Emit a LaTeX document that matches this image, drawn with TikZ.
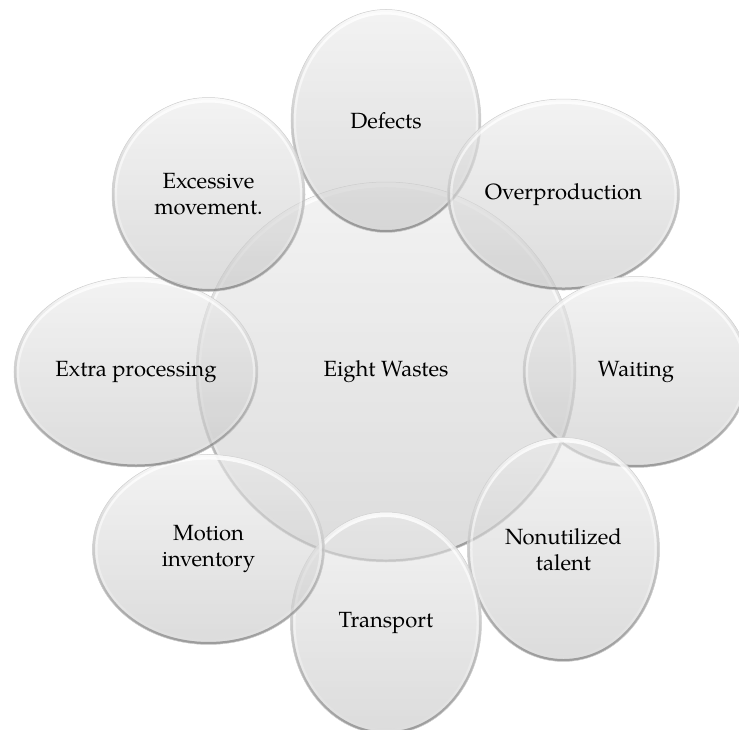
\documentclass[tikz,border=0pt]{standalone}
\usepackage{fontspec}
\setmainfont{TeX Gyre Pagella}
\usetikzlibrary{shapes.geometric,calc,fadings}

\tikzfading[name=rim top,top color=transparent!0,middle color=transparent!90,bottom color=transparent!100]
\tikzfading[name=rim bottom,top color=transparent!100,middle color=transparent!90,bottom color=transparent!0]

\begin{document}
\begin{tikzpicture}[x=1pt,y=1pt,
  waste/.style={ellipse,inner sep=0pt,align=center,font=\fontsize{22}{26}\selectfont,
    top color=gray!16,bottom color=gray!46,fill opacity=.6,text opacity=1,
    draw=gray!38,line width=.5pt,
    path picture={
      \draw[white,line width=10pt,opacity=.85,path fading=rim top,fit fading=true]
        let \p1=(path picture bounding box.center),\p2=(path picture bounding box.north east)
        in (\p1) ellipse [x radius=\x2-\x1,y radius=\y2-\y1];
      \draw[black,line width=5pt,opacity=.3,path fading=rim bottom,fit fading=true]
        let \p1=(path picture bounding box.center),\p2=(path picture bounding box.north east)
        in (\p1) ellipse [x radius=\x2-\x1,y radius=\y2-\y1];
    }}]
 \useasboundingbox (-386,-357) rectangle (353,372);
 \node[waste,minimum width=380pt,minimum height=380pt] (hub) at (0,0) {Eight Wastes};
 \node[waste,minimum width=190pt,minimum height=223pt] (defects) at (90:251) {Defects};
 \node[waste,minimum width=232pt,minimum height=191pt] (overprod) at (45:251) {Overproduction};
 \node[waste,minimum width=226pt,minimum height=191pt] (waiting) at (0:250) {Waiting};
 \node[waste,minimum width=192pt,minimum height=224pt] (talent) at (-45:251) {Nonutilized\\talent};
 \node[waste,minimum width=191pt,minimum height=222pt] (transport) at (-90:251) {Transport};
 \node[waste,minimum width=232pt,minimum height=190pt] (motion) at (-135:251) {Motion\\inventory};
 \node[waste,minimum width=244pt,minimum height=190pt] (extra) at (180:250) {Extra processing};
 \node[waste,minimum width=193pt,minimum height=194pt] (excess) at (135:251) {Excessive\\movement.};
\end{tikzpicture}
\end{document}
